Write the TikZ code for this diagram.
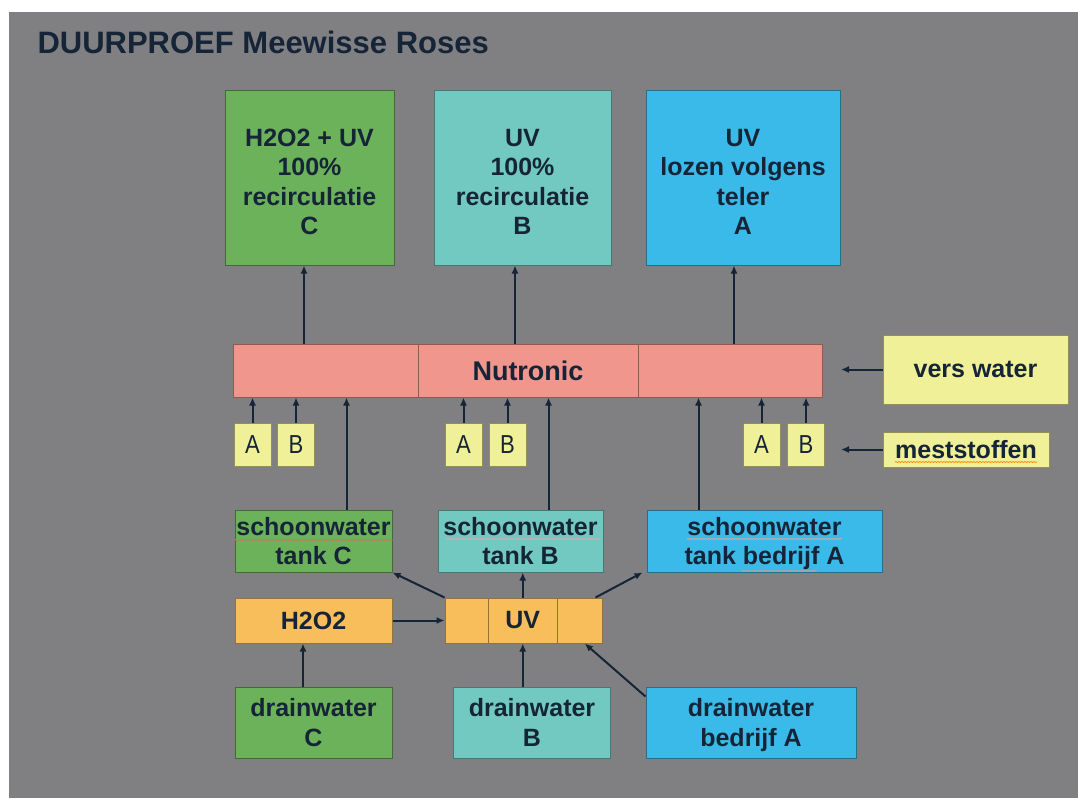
\documentclass[tikz,border=0pt]{standalone}
\usepackage{fontspec}
\setmainfont{Liberation Sans}
\newfontfamily\smalfont[FakeStretch=0.85]{Liberation Sans}
\usetikzlibrary{arrows.meta, decorations.pathmorphing}

\definecolor{achter}{RGB}{128,128,130}
\definecolor{inkt}{RGB}{22,36,56}
\definecolor{groen}{RGB}{108,178,90}
\definecolor{turkoois}{RGB}{114,201,193}
\definecolor{blauw}{RGB}{58,186,232}
\definecolor{roze}{RGB}{240,150,140}
\definecolor{oranje}{RGB}{248,190,92}
\definecolor{geel}{RGB}{240,240,152}
\definecolor{kronkel}{RGB}{214,110,100}

\tikzset{
  blok/.style={draw=#1!60!black, line width=1pt, fill=#1, text=inkt, inner sep=0pt,
    align=center, font=\bfseries\fontsize{25}{29.5}\selectfont},
  letter/.style={blok=geel, minimum width=37pt, minimum height=43pt,
    font=\smalfont\fontsize{26}{29}\selectfont},
  pijl/.style={-{Latex[length=8pt, width=7pt]}, line width=2pt, draw=inkt},
  kronkel/.style={draw=kronkel, line width=0.7pt, decorate,
    decoration={snake, amplitude=0.5pt, segment length=3pt}}
}

\begin{document}
\begin{tikzpicture}[x=1pt, y=-1pt]
  \useasboundingbox (0,0) rectangle (1078,798);
  \fill[white] (0,0) rectangle (1078,798);
  \fill[achter] (9,12) rectangle (1078,798);

  \node[anchor=west, text=inkt, font=\bfseries\fontsize{31}{36}\selectfont] (titel) at (34,42) {DUURPROEF Meewisse Roses};

  % behandelingen
  \node[blok=groen, minimum width=169pt, minimum height=175pt] (topC) at (309.5,177.5) {\rule{0pt}{26pt}H2O2 + UV\\100\%\\recirculatie\\C};
  \node[blok=turkoois, minimum width=177pt, minimum height=175pt] (topB) at (522.5,177.5) {\rule{0pt}{26pt}UV\\100\%\\recirculatie\\B};
  \node[blok=blauw, minimum width=194pt, minimum height=175pt] (topA) at (743,177.5) {\rule{0pt}{26pt}UV\\lozen volgens\\teler\\A};

  % Nutronic
  \node[blok=roze, minimum width=185pt, minimum height=53pt] (nutL) at (325.5,370.5) {};
  \node[blok=roze, minimum width=220pt, minimum height=53pt, font=\bfseries\fontsize{27}{30}\selectfont] (nutM) at (528,370.5) {Nutronic};
  \node[blok=roze, minimum width=184pt, minimum height=53pt] (nutR) at (730,370.5) {};

  \node[blok=geel, minimum width=185pt, minimum height=69pt] (vers) at (975.5,369.5) {vers water};
  \node[blok=geel, minimum width=166pt, minimum height=35pt] (mest) at (966,449.5) {meststoffen};
  \coordinate (versin) at (841,369.5);
  \coordinate (mestin) at (841,449.5);

  \node[letter] (aC) at (252.5,444.5) {A};
  \node[letter] (bC) at (296,444.5) {B};
  \node[letter] (aB) at (463.5,444.5) {A};
  \node[letter] (bB) at (507.5,444.5) {B};
  \node[letter] (aA) at (761.5,444.5) {A};
  \node[letter] (bA) at (806,444.5) {B};

  % tanks
  \node[blok=groen, minimum width=157pt, minimum height=62pt] (tankC) at (313.5,541) {schoonwater\\tank C};
  \node[blok=turkoois, minimum width=165pt, minimum height=62pt] (tankB) at (520.5,541) {schoonwater\\tank B};
  \node[blok=blauw, minimum width=235pt, minimum height=62pt, text depth=0pt] (tankA) at (764.5,541) {schoonwater\\tank bedrijf A};

  % ontsmetting
  \node[blok=oranje, minimum width=157pt, minimum height=45pt] (h2o2) at (313.5,620.5) {H2O2};
  \node[blok=oranje, minimum width=43pt, minimum height=45pt] (uvL) at (466.5,620.5) {};
  \node[blok=oranje, minimum width=69.5pt, minimum height=45pt] (uvM) at (522.75,620.5) {UV};
  \node[blok=oranje, minimum width=44.5pt, minimum height=45pt] (uvR) at (579.75,620.5) {};

  % drainwater
  \node[blok=groen, minimum width=157pt, minimum height=71pt] (drainC) at (313.5,722.5) {drainwater\\C};
  \node[blok=turkoois, minimum width=157pt, minimum height=71pt] (drainB) at (532,722.5) {drainwater\\B};
  \node[blok=blauw, minimum width=210pt, minimum height=71pt, text depth=0pt] (drainA) at (751,722.5) {drainwater\\bedrijf A};

  % spellingskronkels
  \draw[kronkel] (tankC.west |- 0,540) -- (tankC.east |- 0,540);
  \draw[kronkel, draw=kronkel!60!white] (446,539) -- (601,539);
  \draw[kronkel, draw=kronkel!60!white] (687,539) -- (842,539);
  \draw[kronkel, draw=kronkel!70!white] (742,571) -- (817,571);
  \draw[kronkel, draw=orange] (895,462) -- (1037,462);

  % pijlen
  \draw[pijl] (nutL.north -| 304,0) -- (topC.south -| 304,0);
  \draw[pijl] (nutM.north -| 515,0) -- (topB.south -| 515,0);
  \draw[pijl] (nutR.north -| 734,0) -- (topA.south -| 734,0);

  \draw[pijl] (vers.west) -- (versin);
  \draw[pijl] (mest.west) -- (mestin);

  \foreach \n/\d in {aC/nutL, bC/nutL, aB/nutM, bB/nutM, aA/nutR, bA/nutR}
    \draw[pijl] (\n.north) -- (\n.north |- \d.south);

  \draw[pijl] (tankC.north -| 346.5,0) -- (nutL.south -| 346.5,0);
  \draw[pijl] (tankB.north -| 548.5,0) -- (nutM.south -| 548.5,0);
  \draw[pijl] (tankA.north -| 698.5,0) -- (nutR.south -| 698.5,0);

  \draw[pijl] (uvL.north west) -- (tankC.south east);
  \draw[pijl] (uvM.north) -- (uvM.north |- tankB.south);
  \draw[pijl] ([xshift=-7pt]uvR.north east) -- ([xshift=-4pt]tankA.south west);

  \draw[pijl] (h2o2.east) -- (uvL.west);
  \draw[pijl] (drainC.north -| 303,0) -- (h2o2.south -| 303,0);
  \draw[pijl] (drainB.north -| uvM.south) -- (uvM.south);
  \draw[pijl] ([yshift=-10pt]drainA.north west) -- ([xshift=5pt]uvR.south);
\end{tikzpicture}
\end{document}
